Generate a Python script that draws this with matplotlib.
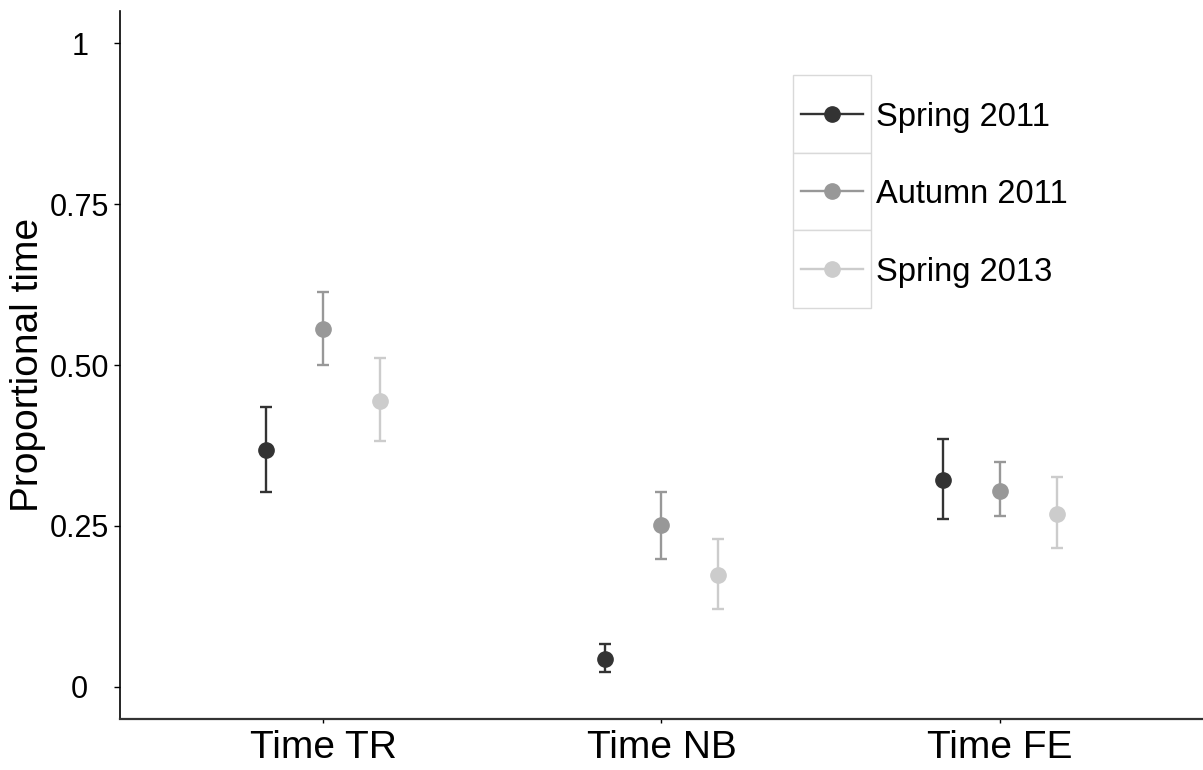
import numpy as np
import matplotlib
matplotlib.use("Agg")
import matplotlib.pyplot as plt
from matplotlib.patches import Rectangle

plt.rcParams['font.family'] = ['Liberation Sans', 'DejaVu Sans']

categories = ["Time TR", "Time NB", "Time FE"]
seasons = ["Spring 2011", "Autumn 2011", "Spring 2013"]
colours = ["#333333", "#989898", "#cccccc"]

# mean and error bar ends per season, one value per category
means = {
    "Spring 2011": [0.368, 0.044, 0.321],
    "Autumn 2011": [0.556, 0.251, 0.305],
    "Spring 2013": [0.444, 0.173, 0.269],
}
lower = {
    "Spring 2011": [0.302, 0.023, 0.260],
    "Autumn 2011": [0.500, 0.199, 0.265],
    "Spring 2013": [0.382, 0.121, 0.215],
}
upper = {
    "Spring 2011": [0.435, 0.067, 0.385],
    "Autumn 2011": [0.614, 0.302, 0.349],
    "Spring 2013": [0.511, 0.229, 0.326],
}

yticks = [0, 0.25, 0.5, 0.75, 1]
ytick_labels = ["0", "0.25", "0.50", "0.75", "1"]

fig = plt.figure(figsize=(12.03, 7.7), dpi=100)
ax = fig.add_axes([0.0998, 0.0662, 0.9, 0.9195])

x = np.arange(1, len(categories) + 1)
dodge = 0.168
for i, s in enumerate(seasons):
    m = np.array(means[s])
    lo = m - np.array(lower[s])
    hi = np.array(upper[s]) - m
    ax.errorbar(x + (i - 1) * dodge, m, yerr=[lo, hi], fmt="o", color=colours[i],
                markersize=11, elinewidth=1.7, capsize=4.5, capthick=1.7)

ax.set_xlim(0.4, 3.6)
ax.set_ylim(-0.05, 1.05)
ax.set_xticks(x)
ax.set_xticklabels(categories, fontsize=28)
ax.set_yticks(yticks)
ax.set_yticklabels(ytick_labels, fontsize=22, ha="center")
ax.tick_params(axis="y", length=4, width=1, pad=25, colors="black")
ax.tick_params(axis="x", length=3, width=1, pad=5, colors="black")
ax.set_ylabel("Proportional time", fontsize=28, va="center")
ax.yaxis.set_label_coords(-0.085, 0.5)

for side in ["top", "right"]:
    ax.spines[side].set_visible(False)
ax.spines["left"].set_linewidth(1.2)
ax.spines["bottom"].set_linewidth(1.6)
ax.spines["bottom"].set_color("#333333")

# legend with boxed keys, ggplot style
lax = fig.add_axes([0.6592, 0.6, 0.0648, 0.3026])
lax.set_xlim(0, 1)
lax.set_ylim(0, 3)
lax.axis("off")
for i, s in enumerate(seasons):
    yc = 2.5 - i
    lax.add_patch(Rectangle((0, 2 - i), 1, 1, facecolor="white",
                            edgecolor="#d9d9d9", linewidth=1, clip_on=False))
    lax.plot([0.1, 0.9], [yc, yc], color=colours[i], linewidth=1.7)
    lax.plot([0.5], [yc], "o", color=colours[i], markersize=11)
    lax.text(1.07, yc, s, fontsize=23.5, va="center_baseline", ha="left")

fig.savefig("out.png", dpi=100)
